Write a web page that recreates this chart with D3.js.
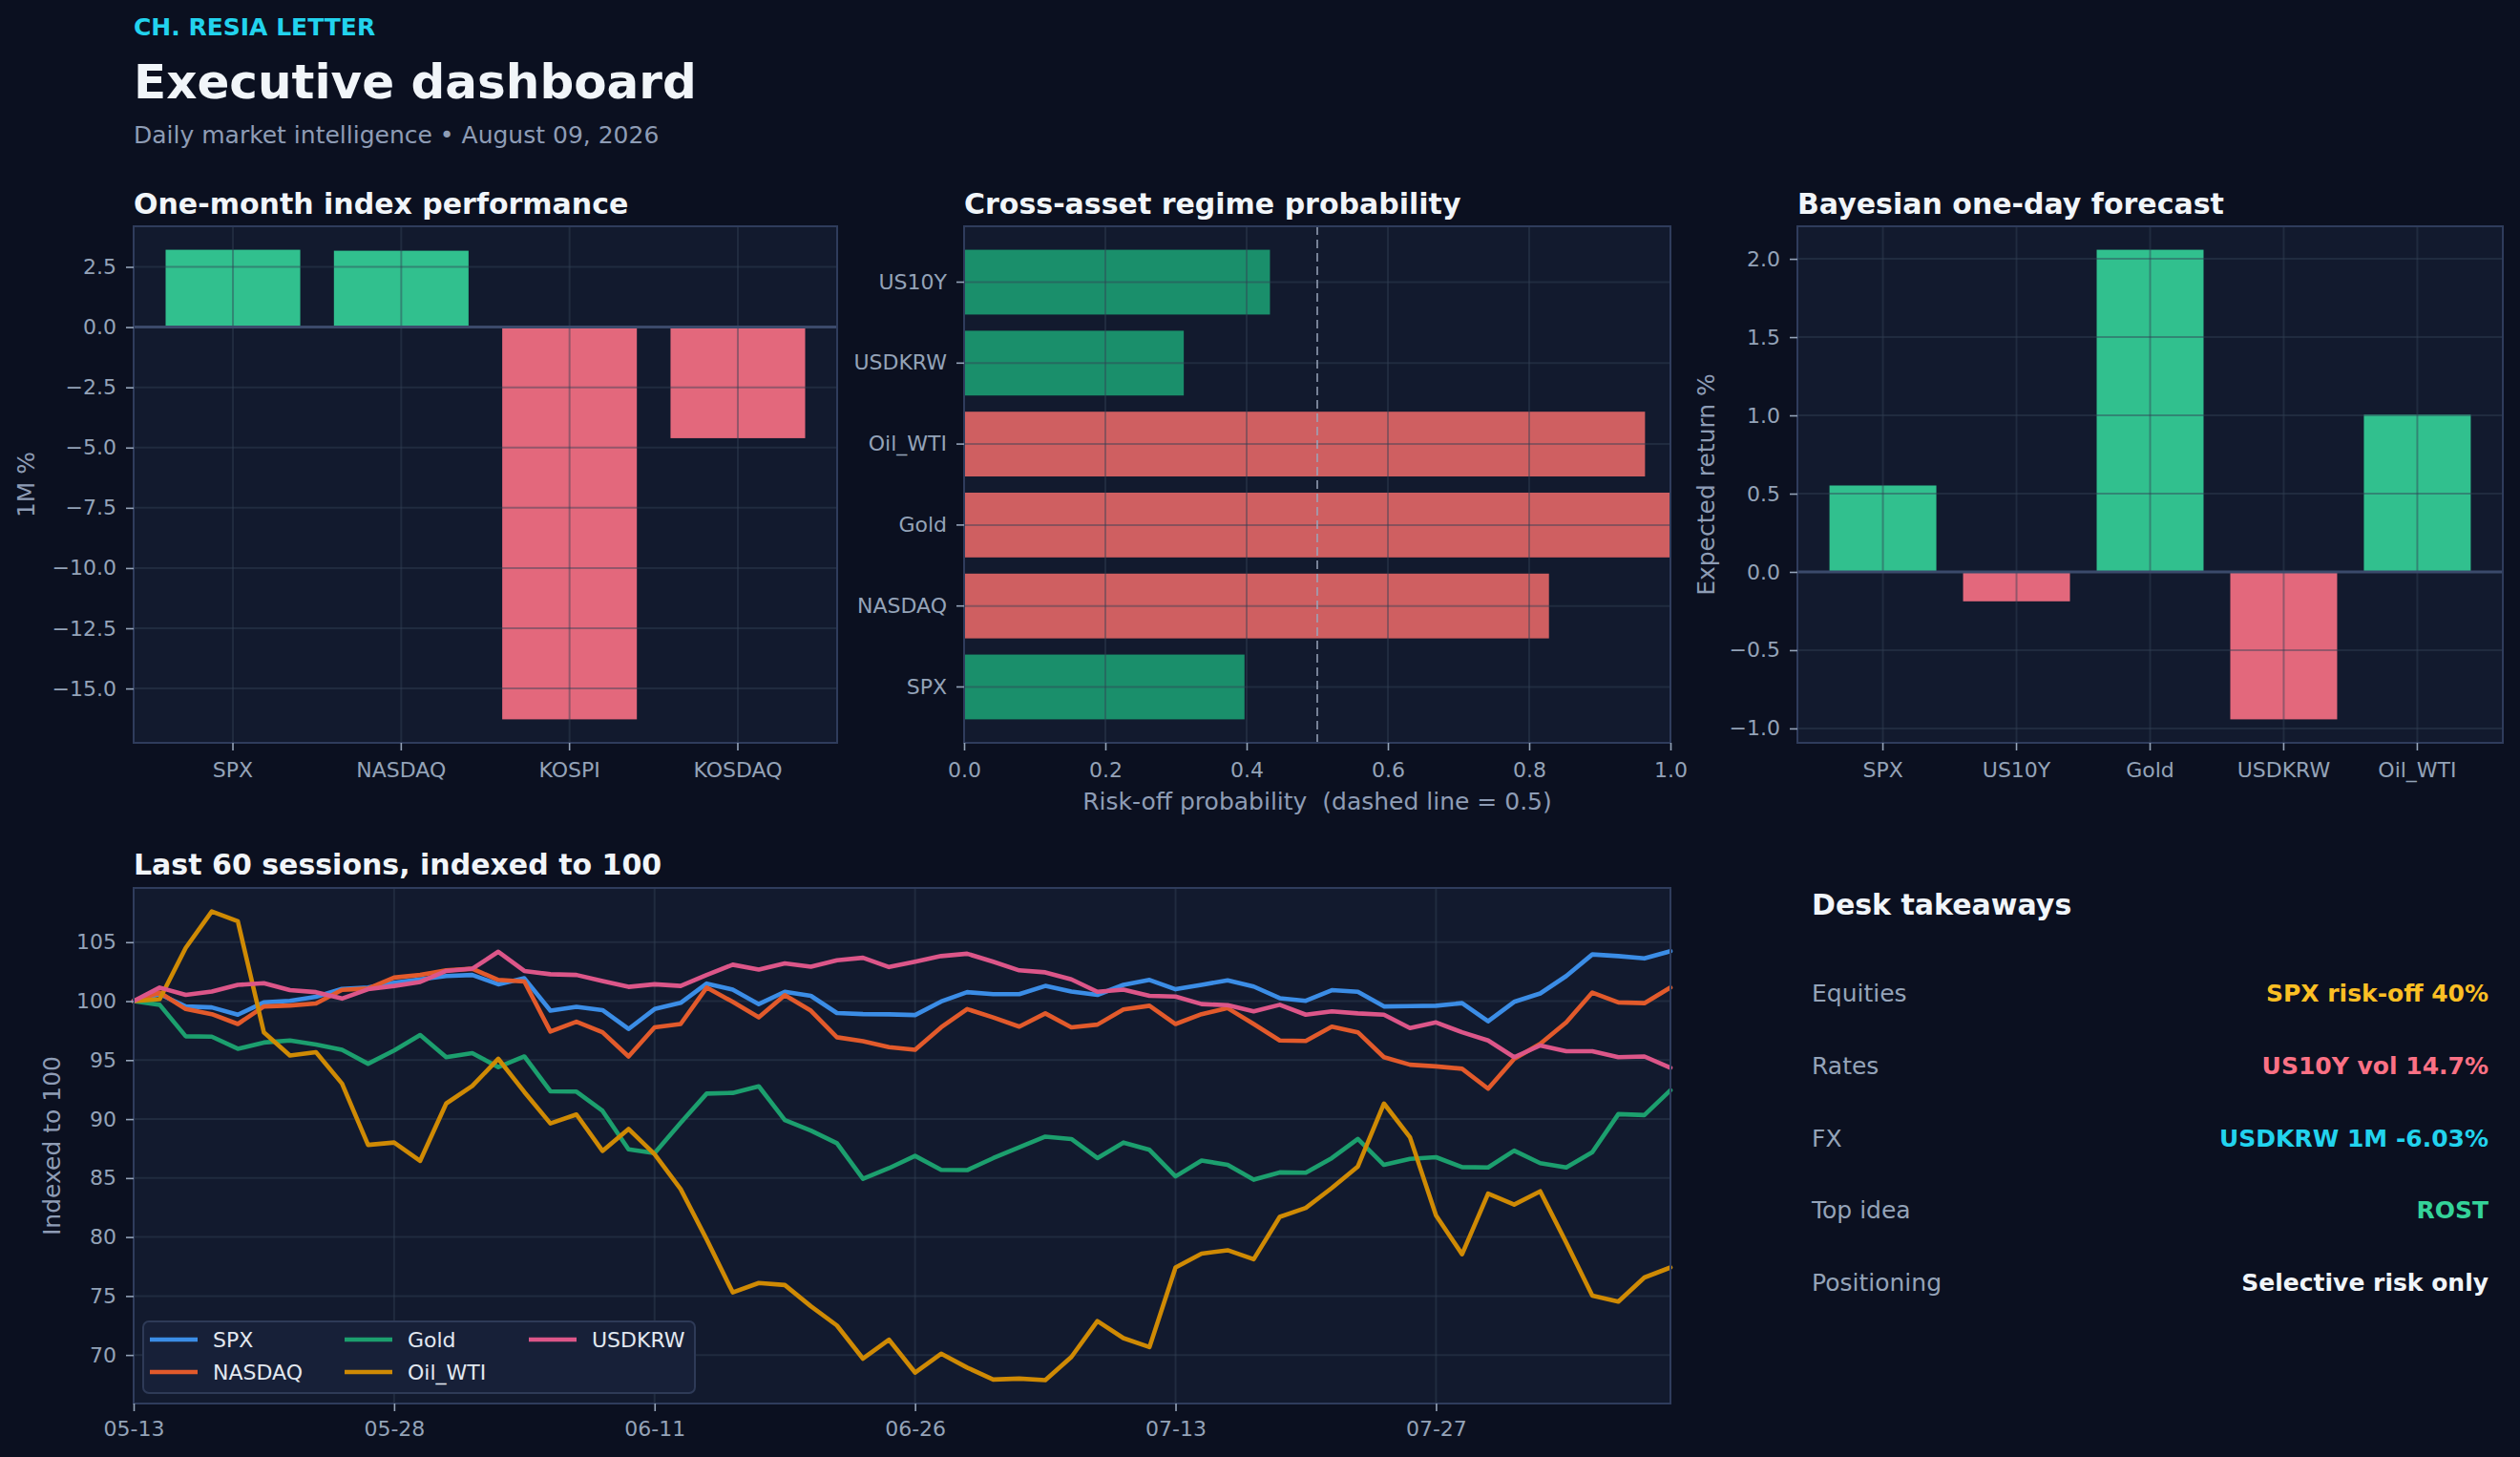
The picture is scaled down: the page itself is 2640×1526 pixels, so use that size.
<!DOCTYPE html>
<html lang="en-US">
<head>
<title>Executive dashboard</title>
<meta charset="utf-8">
<script src="https://cdn.jsdelivr.net/npm/d3@7"></script>
<style>
    body { margin: 0; background: #0b1020; }
    svg { display: block; font-family: 'DejaVu Sans', sans-serif; }
</style>
</head>
<body>
<svg></svg>
<script>

    // ---- data ----
    const perf_labels = ['SPX', 'NASDAQ', 'KOSPI', 'KOSDAQ'];
    const perf_values = [3.21, 3.17, -16.28, -4.61];
    const perf_ticks = [-15, -12.5, -10, -7.5, -5, -2.5, 0, 2.5];

    const regime_labels = ['SPX', 'NASDAQ', 'Gold', 'Oil_WTI', 'USDKRW', 'US10Y'];
    const regime_values = [0.397, 0.828, 1.0, 0.964, 0.311, 0.433];
    const regime_ticks = [0, 0.2, 0.4, 0.6, 0.8, 1.0];
    const regime_cut = 0.5;

    const forecast_labels = ['SPX', 'US10Y', 'Gold', 'USDKRW', 'Oil_WTI'];
    const forecast_values = [0.552, -0.188, 2.058, -0.942, 1.005];
    const forecast_ticks = [-1, -0.5, 0, 0.5, 1, 1.5, 2];

    const session_dates = [
        '05-13','05-14','05-15','05-18','05-19','05-20','05-21','05-22','05-26','05-27',
        '05-28','05-29','06-01','06-02','06-03','06-04','06-05','06-08','06-09','06-10',
        '06-11','06-12','06-15','06-16','06-17','06-18','06-22','06-23','06-24','06-25',
        '06-26','06-29','06-30','07-01','07-02','07-06','07-07','07-08','07-09','07-10',
        '07-13','07-14','07-15','07-16','07-17','07-20','07-21','07-22','07-23','07-24',
        '07-27','07-28','07-29','07-30','07-31','08-03','08-04','08-05','08-06','08-07'
    ];
    const session_ticks = [0, 10, 20, 30, 40, 50];
    const index_ticks = [70, 75, 80, 85, 90, 95, 100, 105];

    const series_names = ['SPX', 'NASDAQ', 'Gold', 'Oil_WTI', 'USDKRW'];
    const spx = [
        100.00,100.59,99.55,99.47,98.85,99.89,100.03,100.37,101.04,101.15,
        101.57,101.85,102.13,102.22,101.43,101.94,99.19,99.52,99.24,97.64,
        99.33,99.86,101.49,100.98,99.75,100.79,100.45,98.99,98.90,98.88,
        98.82,99.97,100.76,100.59,100.59,101.29,100.81,100.53,101.38,101.80,
        101.01,101.38,101.77,101.24,100.25,100.03,100.93,100.79,99.55,99.58,
        99.61,99.83,98.29,99.94,100.65,102.13,103.96,103.82,103.62,104.24
    ];
    const nasdaq = [
        100.00,100.73,99.33,98.90,98.06,99.55,99.63,99.80,100.96,101.07,
        102.00,102.22,102.61,102.75,101.80,101.66,97.42,98.26,97.36,95.31,
        97.78,98.06,101.15,99.94,98.62,100.51,99.19,96.94,96.60,96.10,
        95.87,97.78,99.33,98.62,97.84,98.96,97.78,98.01,99.30,99.61,
        98.06,98.90,99.41,98.06,96.66,96.63,97.84,97.36,95.25,94.61,
        94.47,94.27,92.58,95.11,96.38,98.20,100.73,99.89,99.83,101.15
    ];
    const gold = [
        100.00,99.69,97.02,96.99,95.96,96.49,96.66,96.32,95.87,94.69,
        95.81,97.13,95.25,95.59,94.41,95.31,92.36,92.33,90.70,87.44,
        87.11,89.69,92.16,92.22,92.78,89.92,89.02,87.95,84.94,85.84,
        86.88,85.70,85.67,86.69,87.61,88.51,88.31,86.69,88.01,87.39,
        85.14,86.49,86.12,84.86,85.48,85.45,86.69,88.31,86.12,86.63,
        86.77,85.93,85.90,87.33,86.26,85.90,87.19,90.42,90.34,92.44
    ];
    const oil_wti = [
        100.00,100.17,104.52,107.61,106.77,97.36,95.39,95.67,93.01,87.81,
        88.01,86.46,91.32,92.81,95.11,92.30,89.63,90.39,87.30,89.16,
        87.02,84.07,79.80,75.31,76.10,75.93,74.13,72.50,69.69,71.29,
        68.51,70.11,68.93,67.92,68.00,67.87,69.83,72.87,71.43,70.67,
        77.42,78.60,78.88,78.12,81.71,82.47,84.16,85.98,91.32,88.46,
        81.83,78.54,83.68,82.75,83.88,79.52,75.03,74.52,76.57,77.42
    ];
    const usdkrw = [
        100.00,101.15,100.53,100.81,101.38,101.52,100.93,100.76,100.22,101.01,
        101.29,101.63,102.56,102.75,104.19,102.56,102.28,102.22,101.71,101.21,
        101.43,101.29,102.22,103.09,102.67,103.20,102.92,103.46,103.68,102.89,
        103.34,103.82,104.02,103.34,102.61,102.44,101.85,100.79,100.98,100.45,
        100.39,99.75,99.66,99.13,99.69,98.85,99.13,98.96,98.85,97.72,
        98.20,97.36,96.66,95.25,96.24,95.76,95.76,95.25,95.31,94.35
    ];

    const takeaway_labels = ['Equities', 'Rates', 'FX', 'Top idea', 'Positioning'];
    const takeaway_values = ['SPX risk-off 40%', 'US10Y vol 14.7%', 'USDKRW 1M -6.03%', 'ROST', 'Selective risk only'];

    // ---- look ----
    const col = {
        page: '#0b1020',
        panel: '#121a2e',
        spine: '#2f3c5c',
        grid: '#334155',
        zero: '#3b4a6b',
        tick: '#94a3b8',
        label: '#8e9cb5',
        title: '#f1f5f9',
        up: '#31c08e',
        down: '#e3687c',
        up_dim: '#1a8f6b',
        down_dim: '#cf5f61',
        series: ['#3b8de6', '#e25a2b', '#1c9f6e', '#cf8a04', '#dc5689'],
        notes: ['#fbbf24', '#fb7185', '#22d3ee', '#34d399', '#f1f5f9']
    };

    const W = 2640, H = 1526;
    const tick_size = 22;

    let svg = d3.select('svg')
        .attr('width', W)
        .attr('height', H);

    svg.append('rect')
        .attr('width', W)
        .attr('height', H)
        .attr('fill', col.page);

    // header
    add_text(svg, 140, 37, 'CH. RESIA LETTER', { size: 25, weight: 'bold', fill: '#22d3ee' });
    add_text(svg, 140, 103, 'Executive dashboard', { size: 50, weight: 'bold', fill: col.title });
    add_text(svg, 140, 150, 'Daily market intelligence \u2022 August 09, 2026', { size: 25, fill: col.label });

    // panels
    let b1 = calculateBounds({ x: 140, y: 237, width: 737, height: 541 });
    let b2 = calculateBounds({ x: 1010, y: 237, width: 740, height: 541 });
    let b3 = calculateBounds({ x: 1883, y: 237, width: 739, height: 541 });
    let b4 = calculateBounds({ x: 140, y: 930, width: 1610, height: 540 });

    column_chart(b1, perf_labels, perf_values, perf_ticks, 'One-month index performance', '1M %', 27);
    regime_chart(b2);
    column_chart(b3, forecast_labels, forecast_values, forecast_ticks, 'Bayesian one-day forecast', 'Expected return %', 1787);
    sessions_chart(b4);
    takeaways();

    function column_chart(b, labels, values, ticks, title, y_title, y_title_x) {
        let g = svg.append('g').attr('transform', `translate(${b.x},${b.y})`);
        g.append('rect').attr('width', b.width).attr('height', b.height).attr('fill', col.panel);

        let n = labels.length;
        let x = d3.scaleBand()
            .domain(labels)
            .range([0, b.width])
            .paddingInner(0.2)
            .paddingOuter(0.05 * (n - 0.2));

        let lo = Math.min(0, d3.min(values));
        let hi = Math.max(0, d3.max(values));
        let span = hi - lo;
        let y = d3.scaleLinear()
            .domain([lo - 0.05 * span, hi + 0.05 * span])
            .range([b.height, 0]);

        g.selectAll('.bar')
            .data(values)
            .enter()
            .append('rect')
            .attr('x', (d, i) => x(labels[i]))
            .attr('y', d => y(Math.max(0, d)))
            .attr('width', x.bandwidth())
            .attr('height', d => Math.abs(y(d) - y(0)))
            .attr('fill', d => d >= 0 ? col.up : col.down);

        // grid over bars, like the original
        grid_lines(g, ticks.map(t => y(t)), 'h', b);
        grid_lines(g, labels.map(l => x(l) + x.bandwidth() / 2), 'v', b);

        g.append('line')
            .attr('x1', 0).attr('x2', b.width)
            .attr('y1', y(0)).attr('y2', y(0))
            .attr('stroke', col.zero)
            .attr('stroke-width', 3);

        spine(g, b);

        let ya = g.append('g').call(d3.axisLeft(y).tickValues(ticks).tickFormat(d3.format('.1f')).tickSize(8).tickPadding(10));
        style_axis(ya);
        let xa = g.append('g')
            .attr('transform', `translate(0,${b.height})`)
            .call(d3.axisBottom(x).tickSize(8).tickPadding(12));
        style_axis(xa);

        add_text(svg, b.x, b.y - 13, title, { size: 30, weight: 'bold', fill: col.title });
        add_text(svg, 0, 0, y_title, { size: 25, fill: col.label, anchor: 'middle' })
            .attr('transform', `translate(${y_title_x},${b.ymid})rotate(-90)`)
            .attr('dy', '0.35em');
    }

    function regime_chart(b) {
        let g = svg.append('g').attr('transform', `translate(${b.x},${b.y})`);
        g.append('rect').attr('width', b.width).attr('height', b.height).attr('fill', col.panel);

        let n = regime_labels.length;
        // first label sits at the bottom
        let y = d3.scaleBand()
            .domain(regime_labels)
            .range([b.height, 0])
            .paddingInner(0.2)
            .paddingOuter(0.05 * (n - 0.2));
        let x = d3.scaleLinear().domain([0, 1]).range([0, b.width]);

        g.selectAll('.bar')
            .data(regime_values)
            .enter()
            .append('rect')
            .attr('x', x(0))
            .attr('y', (d, i) => y(regime_labels[i]))
            .attr('width', d => x(d) - x(0))
            .attr('height', y.bandwidth())
            .attr('fill', d => d >= regime_cut ? col.down_dim : col.up_dim);

        grid_lines(g, regime_ticks.map(t => x(t)), 'v', b);
        grid_lines(g, regime_labels.map(l => y(l) + y.bandwidth() / 2), 'h', b);

        g.append('line')
            .attr('x1', x(regime_cut)).attr('x2', x(regime_cut))
            .attr('y1', 0).attr('y2', b.height)
            .attr('stroke', '#9aa6bb')
            .attr('stroke-opacity', 0.75)
            .attr('stroke-width', 2)
            .attr('stroke-dasharray', '9,5');

        spine(g, b);

        let ya = g.append('g').call(d3.axisLeft(y).tickSize(8).tickPadding(10));
        style_axis(ya);
        let xa = g.append('g')
            .attr('transform', `translate(0,${b.height})`)
            .call(d3.axisBottom(x).tickValues(regime_ticks).tickFormat(d3.format('.1f')).tickSize(8).tickPadding(12));
        style_axis(xa);

        add_text(svg, b.x, b.y - 13, 'Cross-asset regime probability', { size: 30, weight: 'bold', fill: col.title });
        add_text(svg, b.xmid, b.bottom + 70, 'Risk-off probability  (dashed line = 0.5)', { size: 25, fill: col.label, anchor: 'middle' })
            .style('white-space', 'pre');
    }

    function sessions_chart(b) {
        let series = [spx, nasdaq, gold, oil_wti, usdkrw];
        let g = svg.append('g').attr('transform', `translate(${b.x},${b.y})`);
        g.append('rect').attr('width', b.width).attr('height', b.height).attr('fill', col.panel);

        let x = d3.scaleLinear().domain([0, session_dates.length - 1]).range([0, b.width]);
        let lo = d3.min(series, s => d3.min(s));
        let hi = d3.max(series, s => d3.max(s));
        let span = hi - lo;
        let y = d3.scaleLinear()
            .domain([lo - 0.05 * span, hi + 0.05 * span])
            .range([b.height, 0]);

        grid_lines(g, index_ticks.map(t => y(t)), 'h', b);
        grid_lines(g, session_ticks.map(t => x(t)), 'v', b);

        let line = d3.line()
            .x((d, i) => x(i))
            .y(d => y(d));

        g.selectAll('.series')
            .data(series)
            .enter()
            .append('path')
            .attr('d', line)
            .attr('fill', 'none')
            .attr('stroke', (d, i) => col.series[i])
            .attr('stroke-width', 4.6)
            .attr('stroke-linejoin', 'round')
            .attr('stroke-linecap', 'round');

        spine(g, b);

        let ya = g.append('g').call(d3.axisLeft(y).tickValues(index_ticks).tickFormat(d3.format('d')).tickSize(8).tickPadding(10));
        style_axis(ya);
        let xa = g.append('g')
            .attr('transform', `translate(0,${b.height})`)
            .call(d3.axisBottom(x).tickValues(session_ticks).tickFormat(i => session_dates[i]).tickSize(8).tickPadding(10));
        style_axis(xa);

        // legend, three columns filled top to bottom
        let leg = g.append('g').attr('transform', 'translate(10,454)');
        leg.append('rect')
            .attr('width', 578)
            .attr('height', 75)
            .attr('rx', 6)
            .attr('fill', '#172038')
            .attr('stroke', '#2e3a57')
            .attr('stroke-width', 2);
        let col_x = [7, 211, 404];
        let row_y = [19, 53];
        series_names.forEach((name, i) => {
            let cx = col_x[Math.floor(i / 2)];
            let cy = row_y[i % 2];
            leg.append('line')
                .attr('x1', cx).attr('x2', cx + 50)
                .attr('y1', cy).attr('y2', cy)
                .attr('stroke', col.series[i])
                .attr('stroke-width', 4.6);
            add_text(leg, cx + 66, cy, name, { size: 22, fill: '#e2e8f0' }).attr('dy', '0.35em');
        });

        add_text(svg, b.x, b.y - 14, 'Last 60 sessions, indexed to 100', { size: 30, weight: 'bold', fill: col.title });
        add_text(svg, 0, 0, 'Indexed to 100', { size: 25, fill: col.label, anchor: 'middle' })
            .attr('transform', `translate(54,${b.ymid})rotate(-90)`)
            .attr('dy', '0.35em');
    }

    function takeaways() {
        add_text(svg, 1898, 958, 'Desk takeaways', { size: 30, weight: 'bold', fill: col.title });
        takeaway_labels.forEach((label, i) => {
            let yy = 1049 + i * 75.8;
            add_text(svg, 1898, yy, label, { size: 25, fill: col.tick });
            add_text(svg, 2607, yy, takeaway_values[i], { size: 25, weight: 'bold', fill: col.notes[i], anchor: 'end' });
        });
    }

    function grid_lines(g, positions, dir, b) {
        g.append('g')
            .selectAll('line')
            .data(positions)
            .enter()
            .append('line')
            .attr('x1', d => dir == 'v' ? d : 0)
            .attr('x2', d => dir == 'v' ? d : b.width)
            .attr('y1', d => dir == 'v' ? 0 : d)
            .attr('y2', d => dir == 'v' ? b.height : d)
            .attr('stroke', col.grid)
            .attr('stroke-opacity', 0.45)
            .attr('stroke-width', 2);
    }

    function spine(g, b) {
        g.append('rect')
            .attr('width', b.width)
            .attr('height', b.height)
            .attr('fill', 'none')
            .attr('stroke', col.spine)
            .attr('stroke-width', 2);
    }

    function style_axis(axis) {
        axis.select('.domain').remove();
        axis.selectAll('.tick line')
            .attr('stroke', col.tick)
            .attr('stroke-width', 1.6);
        axis.selectAll('.tick text')
            .attr('fill', col.tick)
            .attr('font-size', tick_size)
            .attr('font-family', 'DejaVu Sans, sans-serif');
    }

    function add_text(parent, x, y, str, o) {
        return parent.append('text')
            .attr('x', x)
            .attr('y', y)
            .attr('font-size', o.size)
            .attr('font-weight', o.weight || 'normal')
            .attr('fill', o.fill)
            .attr('text-anchor', o.anchor || 'start')
            .text(str);
    }

    function calculateBounds(bounds) {
        bounds.left = bounds.x;
        bounds.right = bounds.left + bounds.width;
        bounds.top = bounds.y;
        bounds.bottom = bounds.top + bounds.height;
        bounds.xmid = bounds.left + bounds.width / 2;
        bounds.ymid = bounds.top + bounds.height / 2;
        return bounds;
    }

</script>
</body>
</html>
